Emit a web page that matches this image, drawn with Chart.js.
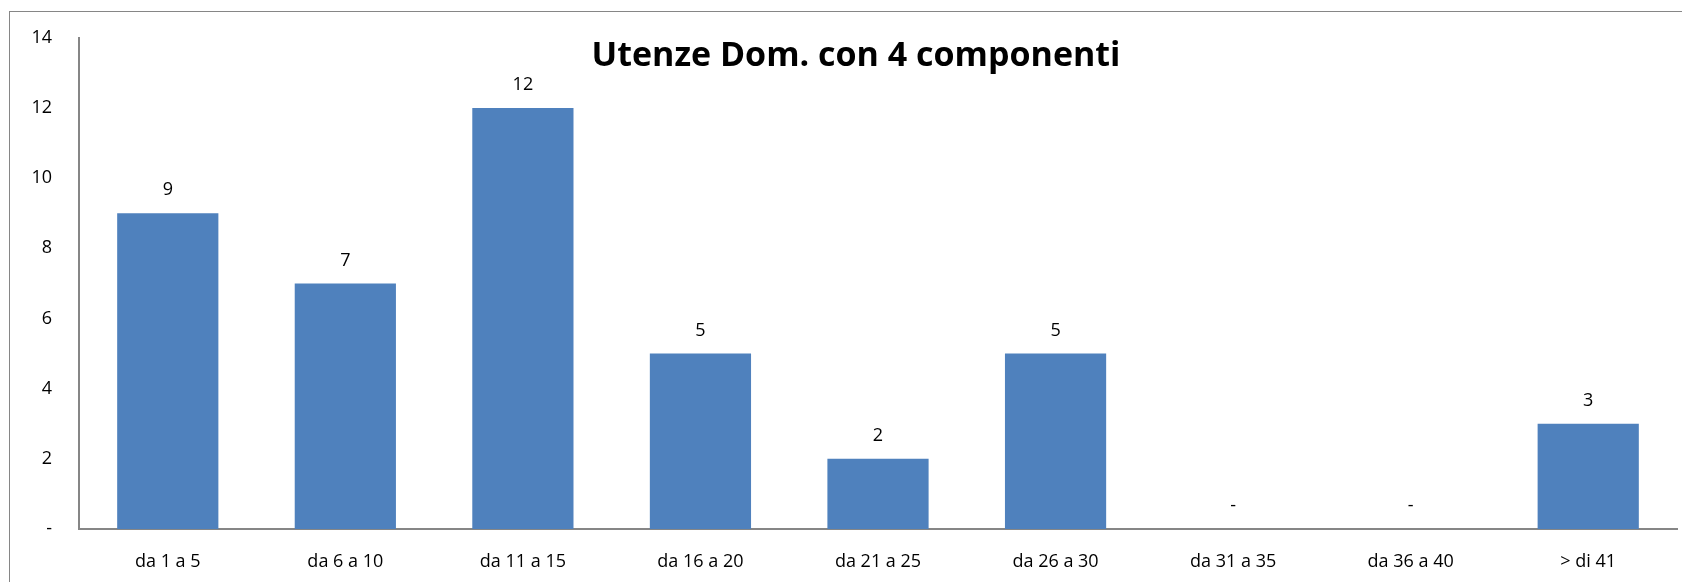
<!DOCTYPE html>
<html>
<head>
<meta charset="utf-8">
<script src="https://cdn.jsdelivr.net/npm/chart.js@4/dist/chart.umd.min.js"></script>
<style>
  html, body { margin: 0; padding: 0; background: #fff; overflow: hidden; }
  canvas { display: block; }
</style>
</head>
<body>
<canvas id="chart" width="1682" height="582"></canvas>
<script>
const TITLE      = 'Utenze Dom. con 4 componenti';
const CATEGORIES = ['da 1 a 5','da 6 a 10','da 11 a 15','da 16 a 20','da 21 a 25','da 26 a 30','da 31 a 35','da 36 a 40','> di 41'];
const VALUES     = [9, 7, 12, 5, 2, 5, 0, 0, 3];
const Y_MAX  = 14;
const Y_STEP = 2;

const BAR_COLOR  = '#4f81bd';
const AXIS_COLOR = '#868686';
const FONT       = "'Open Sans', 'Liberation Sans', sans-serif";

const fmt = v => v === 0 ? '-' : String(v);

// frame + title + value labels
const extras = {
  id: 'extras',
  afterDraw(chart) {
    const ctx = chart.ctx;
    ctx.save();
    ctx.strokeStyle = AXIS_COLOR;
    ctx.lineWidth = 1;
    ctx.strokeRect(9.5, 11.5, 1800, 800);

    ctx.fillStyle = '#000';
    ctx.font = `bold 34px ${FONT}`;
    ctx.textAlign = 'center';
    ctx.textBaseline = 'alphabetic';
    ctx.fillText(TITLE, 856, 66);

    ctx.font = `18px ${FONT}`;
    ctx.textBaseline = 'middle';
    const meta = chart.getDatasetMeta(0);
    meta.data.forEach((bar, i) => {
      ctx.fillText(fmt(VALUES[i]), bar.x, bar.y - 23);
    });
    ctx.restore();
  }
};

new Chart(document.getElementById('chart'), {
  type: 'bar',
  data: {
    labels: CATEGORIES,
    datasets: [{
      data: VALUES,
      backgroundColor: BAR_COLOR,
      borderWidth: 0,
      categoryPercentage: 1,
      barPercentage: 0.57,
    }],
  },
  options: {
    responsive: false,
    animation: false,
    devicePixelRatio: 1,
    layout: { padding: { top: 36, right: 5, left: 0, bottom: 0 } },
    plugins: { legend: { display: false }, tooltip: { enabled: false } },
    scales: {
      x: {
        grid: { display: false, drawTicks: false },
        border: { color: AXIS_COLOR, width: 2 },
        ticks: { color: '#000', font: { family: FONT, size: 18 }, padding: 22, maxRotation: 0, autoSkip: false },
        afterFit: s => { s.height = 53; },
      },
      y: {
        min: 0, max: Y_MAX,
        grid: { display: false, drawTicks: false },
        border: { color: AXIS_COLOR, width: 2 },
        ticks: { stepSize: Y_STEP, color: '#000', font: { family: FONT, size: 18 }, padding: 27, callback: v => fmt(v), autoSkip: false },
        afterFit: s => { s.width = 79; },
      },
    },
  },
  plugins: [extras],
});
</script>
</body>
</html>
